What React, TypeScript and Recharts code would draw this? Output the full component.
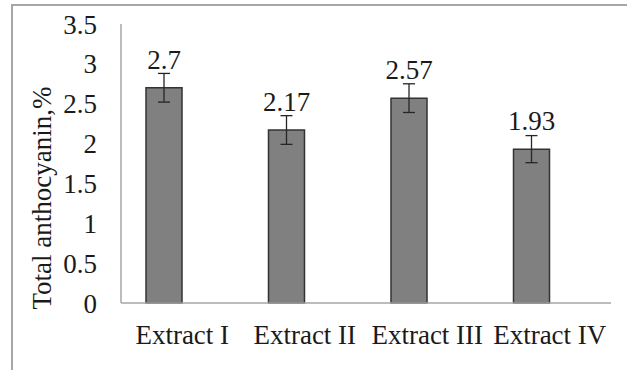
import { BarChart, Bar, XAxis, YAxis, ErrorBar, LabelList } from 'recharts';

const extracts = ['Extract I', 'Extract II', 'Extract III', 'Extract IV'];
const anthocyanin = [2.7, 2.17, 2.57, 1.93];
const stdErr = [0.18, 0.18, 0.18, 0.17];
const yTicks = [0, 0.5, 1, 1.5, 2, 2.5, 3, 3.5];

const data = extracts.map((name, i) => ({
  name,
  value: anthocyanin[i],
  err: stdErr[i],
  blank: null,
}));

const FONT = '"Liberation Serif", "Times New Roman", serif';

export default function App() {
  return (
    <div style={{ position: 'absolute', left: 0, top: 0, width: 627, height: 370, background: '#fff', fontFamily: FONT }}>
      {/* outer chart frame, only top and left edges are visible */}
      <div
        style={{
          position: 'absolute',
          left: 11,
          top: 4,
          width: 616,
          height: 366,
          borderTop: '2px solid #a6a6a6',
          borderLeft: '2px solid #a6a6a6',
        }}
      />
      <div style={{ position: 'absolute', left: 0, top: 0 }}>
        <BarChart
          width={627}
          height={370}
          data={data}
          margin={{ top: 24, right: 16, left: 0, bottom: 0 }}
          barSize={36}
          barGap={0}
        >
          <XAxis
            dataKey="name"
            height={67}
            tickLine={false}
            axisLine={{ stroke: '#a6a6a6', strokeWidth: 1.5 }}
            tickMargin={16}
            tick={{ fontSize: 27, fill: '#1a1a1a', fontFamily: FONT }}
            interval={0}
          />
          <YAxis
            width={121}
            domain={[0, 3.5]}
            ticks={yTicks}
            tickLine={false}
            axisLine={{ stroke: '#a6a6a6', strokeWidth: 1.5 }}
            tickMargin={18}
            tick={{ fontSize: 27, fill: '#1a1a1a', fontFamily: FONT }}
            label={{
              content: () => (
                <text
                  x={51}
                  y={198}
                  transform="rotate(-90 51 198)"
                  textAnchor="middle"
                  fontSize={27}
                  fontFamily={FONT}
                  fill="#1a1a1a"
                >
                  Total anthocyanin,%
                </text>
              ),
            }}
          />
          <Bar dataKey="value" fill="#808080" stroke="#333" strokeWidth={1.5} isAnimationActive={false}>
            <ErrorBar dataKey="err" width={6} stroke="#262626" strokeWidth={1.3} direction="y" />
            <LabelList
              dataKey="value"
              position="top"
              offset={19}
              fontSize={27}
              fontFamily={FONT}
              fill="#1a1a1a"
            />
          </Bar>
          {/* empty second series: keeps bars on the left half of each category like the original */}
          <Bar dataKey="blank" fill="none" isAnimationActive={false} />
        </BarChart>
      </div>
    </div>
  );
}
